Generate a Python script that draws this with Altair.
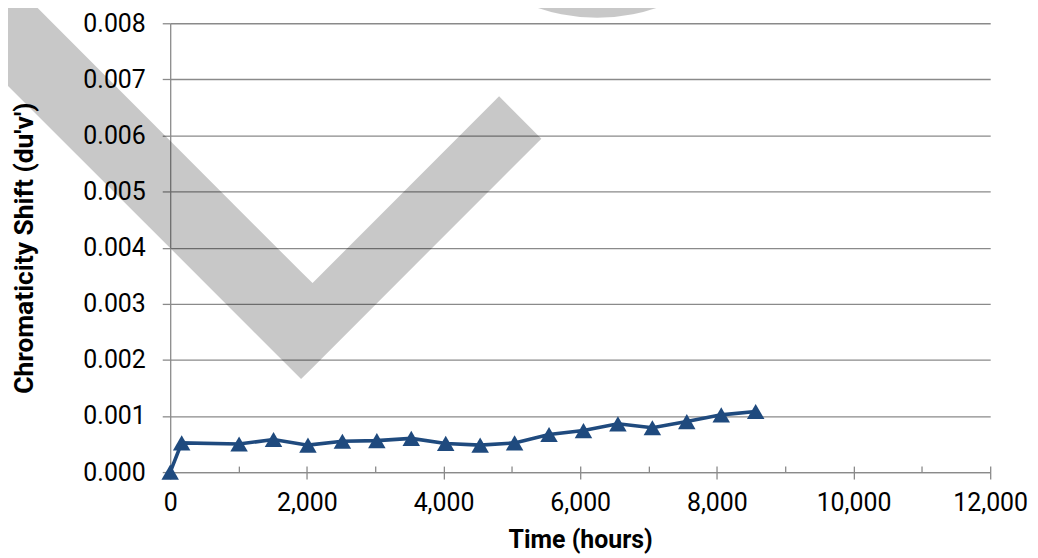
import altair as alt
import pandas as pd

# ---- series data (hours, du'v') ----
hours = [0, 168, 1008, 1512, 2016, 2520, 3024, 3528, 4032, 4536, 5040,
         5544, 6048, 6552, 7056, 7560, 8064, 8568]
shift = [0.0, 0.00052, 0.00050, 0.00058, 0.00048, 0.00055, 0.00056, 0.00060,
         0.00051, 0.00048, 0.00052, 0.00067, 0.00074, 0.00086, 0.00079,
         0.00090, 0.00102, 0.00108]

# ---- axis ticks ----
x_major = [0, 2000, 4000, 6000, 8000, 10000, 12000]
x_minor = [0, 1000, 2000, 3000, 4000, 5000, 6000, 7000, 8000, 9000, 10000, 11000, 12000]
y_ticks = [0.0, 0.001, 0.002, 0.003, 0.004, 0.005, 0.006, 0.007, 0.008]

# ---- grey watermark (check mark + seal), in data units ----
check_x = [-2782, 1915, 2083, 4813, 5432]
check_top = [0.00930, 0.00357, 0.00337, 0.00670, 0.00594]
check_bottom = [0.00738, 0.00166, 0.00186, 0.00519, 0.00594]
seal_x = [6248]
seal_y = [0.01137]

series = pd.DataFrame({"hours": hours, "shift": shift})
check = pd.DataFrame({"x": check_x, "top": check_top, "bottom": check_bottom})
seal = pd.DataFrame({"x": seal_x, "y": seal_y})

GRID = "#8a8a8a"
BLUE = "#1f4a7e"
W, H = 824, 451

xscale = alt.Scale(domain=[0, 12000], nice=False)
yscale = alt.Scale(domain=[0, 0.008], nice=False)

y_axis = alt.Axis(
    values=y_ticks, format=".3f", tickSize=8, tickWidth=1.3, tickColor=GRID,
    domainColor=GRID, domainWidth=1.3, grid=True, gridColor=GRID,
    gridWidth=1.3, labelPadding=17, title="Chromaticity Shift (du'v')",
    titleX=-138, titleBaseline="alphabetic", titleFontSize=26.5)

check_layer = alt.Chart(check).mark_area(
    color="black", opacity=0.215, clip=False, interpolate="linear"
).encode(
    x=alt.X("x:Q", scale=xscale, axis=None),
    y=alt.Y("top:Q", scale=yscale, axis=y_axis),
    y2="bottom:Q",
)

seal_layer = alt.Chart(seal).mark_point(
    shape="circle", filled=True, size=136161, color="black", opacity=0.215, clip=False
).encode(
    x=alt.X("x:Q", scale=xscale, axis=alt.Axis(
        orient="top", offset=-H, values=x_minor, tickSize=6, tickWidth=1.3,
        tickColor=GRID, labels=False, domain=False, grid=False, title=None)),
    y=alt.Y("y:Q", scale=yscale, axis=y_axis),
)

line_layer = alt.Chart(series).mark_line(
    color=BLUE, strokeWidth=3.6,
    point=alt.OverlayMarkDef(shape="triangle-up", size=310, filled=True,
                             color=BLUE, opacity=1),
).encode(
    x=alt.X("hours:Q", scale=xscale, axis=alt.Axis(
        orient="bottom", values=x_major, format=",d", tickSize=7, tickWidth=1.3,
        tickColor=GRID, domainColor=GRID, domainWidth=1.3, grid=False,
        labelFlush=False, labelPadding=12, title="Time (hours)", titleY=76,
        titleBaseline="alphabetic")),
    y=alt.Y("shift:Q", scale=yscale, axis=y_axis),
)

chart = alt.layer(check_layer, seal_layer, line_layer).resolve_axis(
    x="independent"
).properties(
    width=W, height=H,
    autosize=alt.AutoSizeParams(type="none"),
    padding={"left": 163, "top": 14, "right": 40, "bottom": 84},
).configure_view(stroke=None).configure_axis(
    labelFont="Roboto", labelFontSize=25, labelColor="#000000",
    titleFont="Roboto", titleFontSize=25, titleFontWeight="bold",
    titleColor="#000000",
)

chart.save("out.html", embed_options={"renderer": "svg", "actions": False})
